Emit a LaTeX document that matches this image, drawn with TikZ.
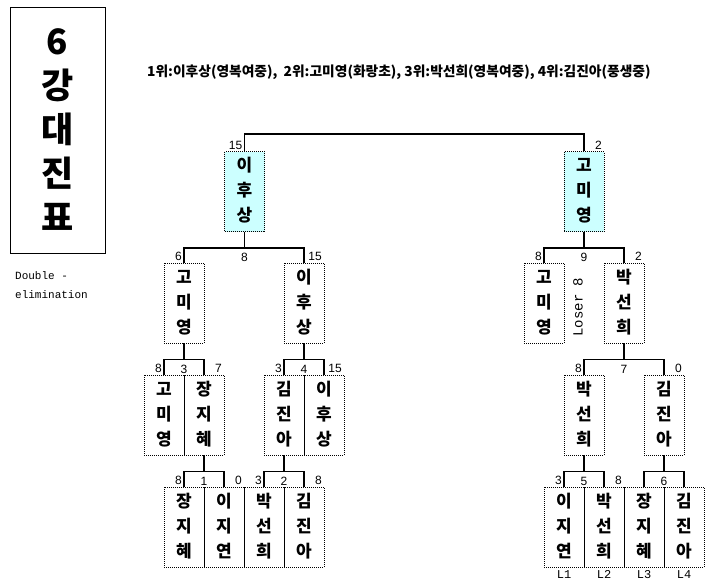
\documentclass[tikz,border=0pt]{standalone}
\usepackage{fontspec}
\setmainfont{Noto Sans CJK KR}
\newfontfamily\numfont{Liberation Sans}
\newfontfamily\monofont{Liberation Mono}
\usetikzlibrary{positioning}
\definecolor{winbox}{HTML}{CCFFFF}
\newcommand\vn[3]{\begin{tabular}{@{}c@{}}#1\\#2\\#3\end{tabular}}
\tikzset{
  pbox/.style={draw,line width=0.9pt,dash pattern=on 1pt off 1pt,minimum width=40pt,minimum height=80pt,
    inner sep=0pt,font=\bfseries\fontsize{17}{25}\selectfont},
  win/.style={pbox,fill=winbox},
  score/.style={font=\numfont\fontsize{12}{12}\selectfont,inner sep=0pt},
  link/.style={line width=1.2pt}
}

\begin{document}
\begin{tikzpicture}[x=1pt,y=-1pt]
\useasboundingbox (0,0) rectangle (723,584);
\node[draw,line width=1pt,minimum width=95pt,minimum height=246pt,align=center,
  font=\bfseries\fontsize{35}{44}\selectfont] (title) at (57.5,130) {6\\강\\대\\진\\표};
\node[anchor=north west,align=left,inner sep=0pt,font=\monofont\fontsize{11}{19}\selectfont]
  (note) at (15,271) {Double -\\elimination};
\node[anchor=west,inner sep=0pt,font=\bfseries\fontsize{13.75}{16}\selectfont] (rank) at (147,72)
  {1위:이후상(영복여중),\ \ 2위:고미영(화랑초), 3위:박선희(영복여중), 4위:김진아(풍생중)};
\node[win] (A) at (244.5,191.5) {\vn 이후상};
\node[win] (B) at (584,191.5) {\vn 고미영};
\foreach \n/\x/\y/\t in {
C/184/303/고미영,D/304/303/이후상,E/544/303/고미영,F/624/303/박선희,
G/164/415/고미영,H/204/415/장지혜,I/284/415/김진아,J/324/415/이후상,
K/584/415/박선희,M/664/415/김진아,
N/184/527/장지혜,O/224/527/이지연,P/264/527/박선희,Q/304/527/김진아,
R/564/527/이지연,S/604/527/박선희,T/644/527/장지혜,U/684/527/김진아}{
\node[pbox] (\n) at (\x,\y) {\expandafter\vn\t};}
\draw[link] (A.north) -- ++(0,-17) -| (B.north);
\node[score,anchor=base east] at ([shift={(-2,-2)}]A.north) {15};
\node[score,anchor=base east] at ([shift={(18,-2)}]B.north) {2};
\foreach \p/\l/\r/\sl/\sm/\sr in {
A/C/D/6/8/15,B/E/F/8/9/2,C/G/H/8/3/7,D/I/J/3/4/15,F/K/M/8/7/0,
H/N/O/8/1/0,I/P/Q/3/2/8,K/R/S/3/5/8,M/T/U/{}/6/{}}{
\draw[link] (\p.south) -- ++(0,16) coordinate (m\p);
\draw[link] (\l.north) |- (m\p) -| (\r.north);
\node[score,anchor=base east] at ([shift={(-2,-2)}]\l.north) {\sl};
\node[score,anchor=base] at ([shift={(0,30)}]\p.south) {\sm};
\node[score,anchor=base east] at ([shift={(18,-2)}]\r.north) {\sr};}
\node[rotate=90,inner sep=0pt,font=\monofont\fontsize{14}{14}\selectfont] (loser) at (578,307) {Loser 8};
\foreach \n/\t in {R/L1,S/L2,T/L3,U/L4}
\node[below=3pt of \n,inner sep=0pt,font=\monofont\fontsize{12}{12}\selectfont] (\t) {\t};
\end{tikzpicture}
\end{document}
